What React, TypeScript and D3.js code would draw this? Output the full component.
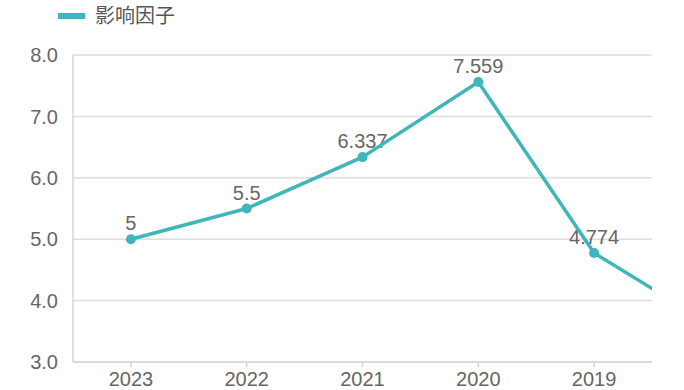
import * as d3 from "d3";
import React, { useEffect, useRef } from "react";

// categories (the last one sits outside the visible window and is clipped)
const years = ["2023", "2022", "2021", "2020", "2019", "2018"];
const visibleYears = ["2023", "2022", "2021", "2020", "2019"];
const factor = [5, 5.5, 6.337, 7.559, 4.774, 3.62];
const labels = ["5", "5.5", "6.337", "7.559", "4.774", "3.62"];
const yTicks = [3, 4, 5, 6, 7, 8];
const seriesName = "影响因子";

const W = 684;
const H = 390;
const FONT = "'Liberation Sans', Arial, 'Noto Sans CJK SC', sans-serif";
const TEAL = "#3fb6bb";

export default function App() {
  const svgRef = useRef<SVGSVGElement>(null);

  useEffect(() => {
    const svg = d3.select(svgRef.current);
    svg.selectAll("*").remove();

    const margin = { top: 55, right: 32, bottom: 28, left: 73 };
    const innerW = W - margin.left - margin.right;
    const innerH = H - margin.top - margin.bottom;
    const step = innerW / visibleYears.length;

    // band scale over all years, but only the first five fit in the plot
    const x = d3.scaleBand()
      .domain(years)
      .range([0, step * years.length])
      .padding(0);
    const cx = (d: string) => (x(d) as number) + x.bandwidth() / 2;

    const y = d3.scaleLinear().domain([3, 8]).range([innerH, 0]);

    const g = svg.append("g").attr("transform", `translate(${margin.left},${margin.top})`);

    svg.append("defs").append("clipPath").attr("id", "plot-clip")
      .append("rect").attr("x", 0).attr("y", -20).attr("width", innerW).attr("height", innerH + 40);

    // grid lines
    g.append("g")
      .selectAll("line")
      .data(yTicks)
      .enter()
      .append("line")
      .attr("x1", 0)
      .attr("x2", innerW)
      .attr("y1", (d) => y(d))
      .attr("y2", (d) => y(d))
      .attr("stroke", (d) => (d === 3 ? "#cfcfcf" : "#dedede"))
      .attr("stroke-width", 1.5);

    // left axis line
    g.append("line")
      .attr("x1", 0).attr("x2", 0)
      .attr("y1", 0).attr("y2", innerH)
      .attr("stroke", "#d4d4d4")
      .attr("stroke-width", 1.5);

    // y tick labels
    g.append("g")
      .selectAll("text")
      .data(yTicks)
      .enter()
      .append("text")
      .attr("x", -15)
      .attr("y", (d) => y(d))
      .attr("dy", "0.36em")
      .attr("text-anchor", "end")
      .style("font-family", FONT)
      .style("font-size", "20px")
      .style("fill", "#666")
      .text((d) => d3.format(".1f")(d));

    // x ticks + labels
    const xt = g.append("g").attr("transform", `translate(0,${innerH})`);
    xt.selectAll("line")
      .data(visibleYears)
      .enter()
      .append("line")
      .attr("x1", (d) => cx(d)).attr("x2", (d) => cx(d))
      .attr("y1", 0).attr("y2", 5)
      .attr("stroke", "#d4d4d4")
      .attr("stroke-width", 1.5);
    xt.selectAll("text")
      .data(visibleYears)
      .enter()
      .append("text")
      .attr("x", (d) => cx(d))
      .attr("y", 24)
      .attr("text-anchor", "middle")
      .style("font-family", FONT)
      .style("font-size", "20px")
      .style("fill", "#666")
      .text((d) => d);

    const pts = years.map((d, i) => ({ year: d, v: factor[i], label: labels[i] }));
    const shown = pts.filter((p) => visibleYears.includes(p.year));

    // value labels (under the line)
    g.append("g")
      .selectAll("text")
      .data(shown)
      .enter()
      .append("text")
      .attr("x", (d) => cx(d.year))
      .attr("y", (d) => y(d.v) - 9)
      .attr("text-anchor", "middle")
      .style("font-family", FONT)
      .style("font-size", "20px")
      .style("fill", "#666")
      .text((d) => d.label);

    const line = d3.line<{ year: string; v: number }>()
      .x((d) => cx(d.year))
      .y((d) => y(d.v));

    const plot = g.append("g").attr("clip-path", "url(#plot-clip)");
    plot.append("path")
      .datum(pts)
      .attr("d", line)
      .attr("fill", "none")
      .attr("stroke", TEAL)
      .attr("stroke-width", 3.5)
      .attr("stroke-linejoin", "round");

    plot.selectAll("circle")
      .data(shown)
      .enter()
      .append("circle")
      .attr("cx", (d) => cx(d.year))
      .attr("cy", (d) => y(d.v))
      .attr("r", 5)
      .attr("fill", TEAL);

    // legend
    const lg = svg.append("g");
    lg.append("rect")
      .attr("x", 58).attr("y", 13)
      .attr("width", 27).attr("height", 6)
      .attr("fill", TEAL);
    lg.append("text")
      .attr("x", 95).attr("y", 16)
      .attr("dy", "0.36em")
      .style("font-family", FONT)
      .style("font-size", "20px")
      .style("fill", "#555")
      .text(seriesName);
  }, []);

  return (
    <svg
      ref={svgRef}
      width={W}
      height={H}
      style={{ position: "absolute", left: 0, top: 0, background: "#fff" }}
    />
  );
}
